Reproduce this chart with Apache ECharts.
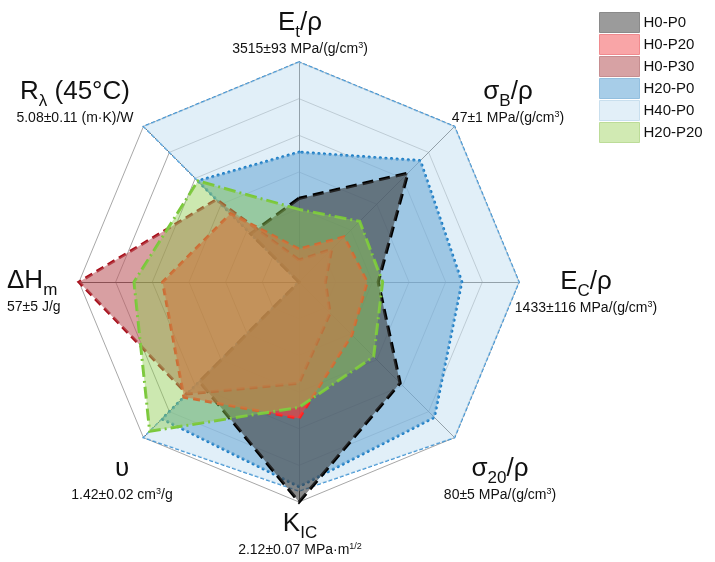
<!DOCTYPE html>
<html>
<head>
<meta charset="utf-8">
<script src="https://cdn.jsdelivr.net/npm/echarts@6/dist/echarts.min.js"></script>
<style>
  html, body { margin: 0; padding: 0; background: #ffffff; }
  #chart { width: 715px; height: 562px; }
</style>
</head>
<body>
<div id="chart"></div>
<script>
// Axes, counter-clockwise from the top
const properties = ['Et/ρ', 'Rλ (45°C)', 'ΔHm', 'υ', 'KIC', 'σ20/ρ', 'EC/ρ', 'σB/ρ'];
// Best value on each axis (= 100 %)
const bestValues = ['3515±93 MPa/(g/cm³)', '5.08±0.11 (m·K)/W', '57±5 J/g', '1.42±0.02 cm³/g',
                    '2.12±0.07 MPa·m¹ᐟ²', '80±5 MPa/(g/cm³)', '1433±116 MPa/(g/cm³)', '47±1 MPa/(g/cm³)'];

// Sample values, % of the best value, same axis order
const seriesNames = ['H0-P0', 'H0-P20', 'H0-P30', 'H20-P0', 'H40-P0', 'H20-P20'];
const h40p0  = [100, 100,   0, 100,  95, 100, 100, 100];
const h20p0  = [ 59,  65,   0,  88,  93,  87,  74,  78];
const h0p0   = [ 38,  31,   0,  64, 100,  65,  36,  70];
const h0p30  = [ 10,  53, 100,  72,  46,  20,  12,  21];
const h0p20  = [ 15,  44,  62,  74,  62,  34,  31,  29];
const h20p20 = [ 33,  65,  75,  96,  57,  48,  38,  39];

const FONT = '"Liberation Sans", Arial, sans-serif';

// Rich-text label for each axis: name (with sub/superscripts) over the best value
const axisLabelText = [
  '{n|E}{s|t}{n|/ρ}\n{v|3515±93 MPa/(g/cm}{p|3}{v|)}',
  '{n|R}{s|λ}{n| (45°C)}\n{v|5.08±0.11 (m·K)/W}',
  '{n|ΔH}{s|m}\n{v|57±5 J/g}',
  '{n|υ}\n{v|1.42±0.02 cm}{p|3}{v|/g}',
  '{n|K}{s|IC}\n{v|2.12±0.07 MPa·m}{p|1/2}',
  '{n|σ}{s|20}{n|/ρ}\n{v|80±5 MPa/(g/cm}{p|3}{v|)}',
  '{n|E}{s|C}{n|/ρ}\n{v|1433±116 MPa/(g/cm}{p|3}{v|)}',
  '{n|σ}{s|B}{n|/ρ}\n{v|47±1 MPa/(g/cm}{p|3}{v|)}'
];
// Label placement: offset of the text block from the radar centre, and alignment
const labelLayout = [
  { dx: 1,    dy: -251, align: 'center' },
  { dx: -224, dy: -182, align: 'center' },
  { dx: -292, dy: 7,    align: 'left' },
  { dx: -177, dy: 195,  align: 'center' },
  { dx: 1,    dy: 250,  align: 'center' },
  { dx: 201,  dy: 195,  align: 'center' },
  { dx: 287,  dy: 8,    align: 'center' },
  { dx: 209,  dy: -182, align: 'center' }
];

const CX = 299, CY = 282, R = 220;

const rich = {
  n: { fontFamily: FONT, fontSize: 26, lineHeight: 36, color: '#111' },
  s: { fontFamily: FONT, fontSize: 17, lineHeight: 22, verticalAlign: 'bottom', color: '#111' },
  v: { fontFamily: FONT, fontSize: 14, lineHeight: 16, color: '#111' },
  p: { fontFamily: FONT, fontSize: 9, lineHeight: 10, verticalAlign: 'top', color: '#111' }
};

const styles = {
  'H40-P0':  { fill: '#cde4f3', op: 0.6,  line: '#3a8fd0', width: 1.6, type: [4, 2],  cap: 'butt' },
  'H20-P0':  { fill: '#71abd7', op: 0.6,  line: '#1f7fc6', width: 3.2, type: [0.1, 5.5], cap: 'round' },
  'H0-P0':   { fill: '#3c3c3c', op: 0.6,  line: '#000000', width: 3.2, type: [11, 6], cap: 'butt' },
  'H0-P30':  { fill: '#be5f64', op: 0.6,  line: '#a8101c', width: 3,   type: [8, 5],  cap: 'butt' },
  'H0-P20':  { fill: '#ff3c3c', op: 0.6,  line: '#ff1f1f', width: 3,   type: [7, 5],  cap: 'butt' },
  'H20-P20': { fill: '#8ecc4f', op: 0.45, line: '#79c83a', width: 3,   type: [12, 4, 2, 4], cap: 'butt' }
};
const legendSwatch = {
  'H0-P0': '#9b9b9b', 'H0-P20': '#f9a5a7', 'H0-P30': '#d7a2a4',
  'H20-P0': '#a7cde8', 'H40-P0': '#e2eff8', 'H20-P20': '#d1eab3'
};
const legendBorder = {
  'H0-P0': '#8a8a8a', 'H0-P20': '#f08a8e', 'H0-P30': '#c68d90',
  'H20-P0': '#93bfdf', 'H40-P0': '#c9dfee', 'H20-P20': '#bcdc98'
};

// Drawing order, back to front
const drawOrder = [
  ['H40-P0', h40p0], ['H20-P0', h20p0], ['H0-P0', h0p0],
  ['H0-P30', h0p30], ['H0-P20', h0p20], ['H20-P20', h20p20]
];

const chart = echarts.init(document.getElementById('chart'), null, { renderer: 'canvas' });

chart.setOption({
  backgroundColor: '#ffffff',
  animation: false,
  legend: {
    orient: 'vertical',
    left: 599,
    top: 12,
    padding: 0,
    itemWidth: 40,
    itemHeight: 20,
    itemGap: 1,
    icon: 'rect',
    textStyle: { fontFamily: FONT, fontSize: 15, color: '#111', padding: [0, 0, 0, -1] },
    data: seriesNames.map(n => ({
      name: n,
      itemStyle: { color: legendSwatch[n], borderColor: legendBorder[n], borderWidth: 1, opacity: 1 }
    }))
  },
  radar: {
    center: [CX, CY],
    radius: R,
    startAngle: 90,
    splitNumber: 6,
    shape: 'polygon',
    indicator: properties.map(p => ({ name: p, min: 0, max: 100 })),
    axisName: { show: false },
    axisLine: { lineStyle: { color: '#3c3c3c', width: 1 } },
    splitLine: { lineStyle: { color: '#a8a8a8', width: 1 } },
    splitArea: { show: false }
  },
  graphic: axisLabelText.map((t, i) => ({
    type: 'text',
    x: CX + labelLayout[i].dx,
    y: CY + labelLayout[i].dy,
    z: 100,
    style: {
      text: t,
      rich: rich,
      align: labelLayout[i].align,
      verticalAlign: 'middle',
      fill: '#111'
    }
  })),
  series: drawOrder.map(([name, vals]) => {
    const s = styles[name];
    return {
      type: 'radar',
      name: name,
      symbol: 'none',
      silent: true,
      itemStyle: { color: legendSwatch[name] },
      lineStyle: { color: s.line, width: s.width, type: s.type, cap: s.cap, join: 'miter' },
      areaStyle: { color: s.fill, opacity: s.op },
      data: [{ name: name, value: vals }]
    };
  })
});
</script>
</body>
</html>
